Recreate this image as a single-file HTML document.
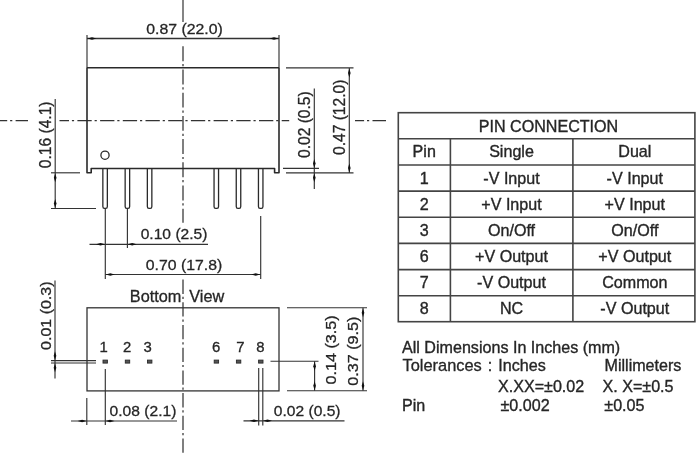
<!DOCTYPE html>
<html><head><meta charset="utf-8"><style>
html,body{margin:0;padding:0;background:#fff;width:700px;height:454px;overflow:hidden}
svg{display:block;filter:blur(0.45px)}
text{font-family:"Liberation Sans",sans-serif}
</style></head><body>
<svg width="700" height="454" viewBox="0 0 700 454">
<line x1="0" y1="120.6" x2="28" y2="120.6" stroke="#333333" stroke-width="1.25" stroke-dasharray="14.3 2.9 2.2 3.3" stroke-dashoffset="7.1"/>
<line x1="59.5" y1="120.6" x2="289.2" y2="120.6" stroke="#333333" stroke-width="1.25" stroke-dasharray="14.3 2.9 2.2 3.3" stroke-dashoffset="4.8"/>
<line x1="355" y1="120.6" x2="386" y2="120.6" stroke="#333333" stroke-width="1.25" stroke-dasharray="14.3 2.9 2.2 3.3" stroke-dashoffset="5.2"/>
<line x1="183" y1="0" x2="183" y2="22" stroke="#333333" stroke-width="1.2" />
<line x1="183" y1="46.3" x2="183" y2="222.7" stroke="#333333" stroke-width="1.25" stroke-dasharray="14.9 2.9 2.2 3.2" stroke-dashoffset="0"/>
<line x1="183" y1="279.6" x2="183" y2="454" stroke="#333333" stroke-width="1.25" stroke-dasharray="14.3 2.9 2.2 3.3" stroke-dashoffset="0"/>
<path d="M87,67.7 H279 V172.8 H274.6 V168.5 H91.2 V172.8 H87 Z" fill="none" stroke="#2a2a2a" stroke-width="1.6" stroke-linejoin="round"/>
<circle cx="105" cy="155.2" r="4.1" fill="none" stroke="#2a2a2a" stroke-width="1.3"/>
<path d="M102.85,168.5 V206.5 Q102.85,208.4 104.5,208.4 H105.69999999999999 Q107.35,208.4 107.35,206.5 V168.5" fill="none" stroke="#2a2a2a" stroke-width="1.3"/>
<path d="M125.15,168.5 V206.5 Q125.15,208.4 126.80000000000001,208.4 H128.0 Q129.65,208.4 129.65,206.5 V168.5" fill="none" stroke="#2a2a2a" stroke-width="1.3"/>
<path d="M147.35,168.5 V206.5 Q147.35,208.4 149.0,208.4 H150.2 Q151.85,208.4 151.85,206.5 V168.5" fill="none" stroke="#2a2a2a" stroke-width="1.3"/>
<path d="M214.05,168.5 V206.5 Q214.05,208.4 215.70000000000002,208.4 H216.9 Q218.55,208.4 218.55,206.5 V168.5" fill="none" stroke="#2a2a2a" stroke-width="1.3"/>
<path d="M236.25,168.5 V206.5 Q236.25,208.4 237.9,208.4 H239.1 Q240.75,208.4 240.75,206.5 V168.5" fill="none" stroke="#2a2a2a" stroke-width="1.3"/>
<path d="M258.45,168.5 V206.5 Q258.45,208.4 260.09999999999997,208.4 H261.3 Q262.95,208.4 262.95,206.5 V168.5" fill="none" stroke="#2a2a2a" stroke-width="1.3"/>
<line x1="87" y1="35" x2="87" y2="67" stroke="#333333" stroke-width="1.15" />
<line x1="279" y1="35" x2="279" y2="67" stroke="#333333" stroke-width="1.15" />
<line x1="87" y1="38.5" x2="279" y2="38.5" stroke="#333333" stroke-width="1.3" />
<polygon points="87.50,38.50 92.00,39.80 96.50,38.50 92.00,37.20" fill="#111"/>
<polygon points="278.50,38.50 274.00,37.20 269.50,38.50 274.00,39.80" fill="#111"/>
<text transform="translate(146.2,34.2) scale(1,0.97)" text-anchor="start" font-size="15.85" fill="#262626" stroke="#262626" stroke-width="0.3" >0.87 (22.0)</text>
<line x1="51" y1="172.8" x2="80" y2="172.8" stroke="#333333" stroke-width="1.15" />
<line x1="51" y1="208.5" x2="96" y2="208.5" stroke="#333333" stroke-width="1.15" />
<line x1="55.2" y1="99" x2="55.2" y2="208.5" stroke="#333333" stroke-width="1.15" />
<polygon points="55.20,173.30 53.90,177.80 55.20,182.30 56.50,177.80" fill="#111"/>
<polygon points="55.20,208.00 56.50,203.50 55.20,199.00 53.90,203.50" fill="#111"/>
<text transform="translate(50.9,168.2) rotate(-90) scale(1,1.06)" text-anchor="start" font-size="15.6" fill="#262626" stroke="#262626" stroke-width="0.3" >0.16 (4.1)</text>
<line x1="286" y1="67.9" x2="353.5" y2="67.9" stroke="#333333" stroke-width="1.15" />
<line x1="283" y1="168.3" x2="319" y2="168.3" stroke="#333333" stroke-width="1.15" />
<line x1="286" y1="172.9" x2="353.5" y2="172.9" stroke="#333333" stroke-width="1.15" />
<line x1="349.3" y1="68" x2="349.3" y2="172.9" stroke="#333333" stroke-width="1.15" />
<polygon points="349.30,68.50 348.00,73.00 349.30,77.50 350.60,73.00" fill="#111"/>
<polygon points="349.30,172.40 350.60,167.90 349.30,163.40 348.00,167.90" fill="#111"/>
<text transform="translate(344.5,155.0) rotate(-90) scale(1,1.06)" text-anchor="start" font-size="15.6" fill="#262626" stroke="#262626" stroke-width="0.3" >0.47 (12.0)</text>
<line x1="314.3" y1="88.5" x2="314.3" y2="189" stroke="#333333" stroke-width="1.15" />
<polygon points="314.30,168.00 315.60,163.50 314.30,159.00 313.00,163.50" fill="#111"/>
<polygon points="314.30,173.20 313.00,177.70 314.30,182.20 315.60,177.70" fill="#111"/>
<text transform="translate(310.0,158.0) rotate(-90) scale(1,1.06)" text-anchor="start" font-size="15.6" fill="#262626" stroke="#262626" stroke-width="0.3" >0.02 (0.5)</text>
<line x1="105.3" y1="208.4" x2="105.3" y2="279" stroke="#333333" stroke-width="1.15" />
<line x1="127.4" y1="208.4" x2="127.4" y2="248" stroke="#333333" stroke-width="1.15" />
<line x1="260.7" y1="216" x2="260.7" y2="279" stroke="#333333" stroke-width="1.15" />
<line x1="89.5" y1="244.3" x2="208" y2="244.3" stroke="#333333" stroke-width="1.15" />
<polygon points="105.00,244.30 100.50,243.00 96.00,244.30 100.50,245.60" fill="#111"/>
<polygon points="127.70,244.30 132.20,245.60 136.70,244.30 132.20,243.00" fill="#111"/>
<text transform="translate(140.7,238.8) scale(1,0.97)" text-anchor="start" font-size="15.6" fill="#262626" stroke="#262626" stroke-width="0.3" >0.10 (2.5)</text>
<line x1="105.3" y1="274.5" x2="260.7" y2="274.5" stroke="#333333" stroke-width="1.15" />
<polygon points="105.80,274.50 110.30,275.80 114.80,274.50 110.30,273.20" fill="#111"/>
<polygon points="260.20,274.50 255.70,273.20 251.20,274.50 255.70,275.80" fill="#111"/>
<text transform="translate(145.7,270.2) scale(1,0.97)" text-anchor="start" font-size="15.85" fill="#262626" stroke="#262626" stroke-width="0.3" >0.70 (17.8)</text>
<rect x="87" y="307.8" width="192" height="83.1" fill="none" stroke="#333333" stroke-width="1.3"/>
<text transform="translate(129.8,302.2) scale(1,0.97)" text-anchor="start" font-size="16.3" fill="#262626" stroke="#262626" stroke-width="0.3" >Bottom</text>
<text transform="translate(189.2,302.2) scale(1,0.97)" text-anchor="start" font-size="16.3" fill="#262626" stroke="#262626" stroke-width="0.3" >View</text>
<text transform="translate(103.6,352.2) scale(1,0.97)" text-anchor="middle" font-size="14.9" fill="#262626" stroke="#262626" stroke-width="0.3" >1</text>
<rect x="103.0" y="360.1" width="4.4" height="3.0" fill="#555" stroke="#2a2a2a" stroke-width="0.9"/>
<text transform="translate(127.1,352.2) scale(1,0.97)" text-anchor="middle" font-size="14.9" fill="#262626" stroke="#262626" stroke-width="0.3" >2</text>
<rect x="125.30000000000001" y="360.1" width="4.4" height="3.0" fill="#555" stroke="#2a2a2a" stroke-width="0.9"/>
<text transform="translate(147.7,352.2) scale(1,0.97)" text-anchor="middle" font-size="14.9" fill="#262626" stroke="#262626" stroke-width="0.3" >3</text>
<rect x="147.5" y="360.1" width="4.4" height="3.0" fill="#555" stroke="#2a2a2a" stroke-width="0.9"/>
<text transform="translate(216.2,352.2) scale(1,0.97)" text-anchor="middle" font-size="14.9" fill="#262626" stroke="#262626" stroke-width="0.3" >6</text>
<rect x="214.20000000000002" y="360.1" width="4.4" height="3.0" fill="#555" stroke="#2a2a2a" stroke-width="0.9"/>
<text transform="translate(240.3,352.2) scale(1,0.97)" text-anchor="middle" font-size="14.9" fill="#262626" stroke="#262626" stroke-width="0.3" >7</text>
<rect x="236.4" y="360.1" width="4.4" height="3.0" fill="#555" stroke="#2a2a2a" stroke-width="0.9"/>
<text transform="translate(260.4,352.2) scale(1,0.97)" text-anchor="middle" font-size="14.9" fill="#262626" stroke="#262626" stroke-width="0.3" >8</text>
<rect x="258.59999999999997" y="360.1" width="4.4" height="3.0" fill="#555" stroke="#2a2a2a" stroke-width="0.9"/>
<line x1="51" y1="360.6" x2="96" y2="360.6" stroke="#333333" stroke-width="1.1" />
<line x1="51" y1="363" x2="96" y2="363" stroke="#333333" stroke-width="1.1" />
<line x1="55" y1="280.5" x2="55" y2="378.5" stroke="#333333" stroke-width="1.15" />
<polygon points="55.00,360.30 56.30,355.80 55.00,351.30 53.70,355.80" fill="#111"/>
<polygon points="55.00,363.30 53.70,367.80 55.00,372.30 56.30,367.80" fill="#111"/>
<text transform="translate(51.2,349.9) rotate(-90) scale(1,0.93)" text-anchor="start" font-size="16.0" fill="#262626" stroke="#262626" stroke-width="0.3" >0.01 (0.3)</text>
<line x1="86.8" y1="398" x2="86.8" y2="425" stroke="#333333" stroke-width="1.15" />
<line x1="105.3" y1="369" x2="105.3" y2="425" stroke="#333333" stroke-width="1.15" />
<line x1="71" y1="421" x2="177" y2="421" stroke="#333333" stroke-width="1.15" />
<polygon points="86.60,421.00 82.10,419.70 77.60,421.00 82.10,422.30" fill="#111"/>
<polygon points="105.50,421.00 110.00,422.30 114.50,421.00 110.00,419.70" fill="#111"/>
<text transform="translate(109.6,415.6) scale(1,0.97)" text-anchor="start" font-size="15.6" fill="#262626" stroke="#262626" stroke-width="0.3" >0.08 (2.1)</text>
<line x1="258.7" y1="368" x2="258.7" y2="425.5" stroke="#333333" stroke-width="1.15" />
<line x1="262.8" y1="368" x2="262.8" y2="425.5" stroke="#333333" stroke-width="1.15" />
<line x1="243.5" y1="420.8" x2="344.5" y2="420.8" stroke="#333333" stroke-width="1.15" />
<polygon points="258.50,420.80 254.00,419.50 249.50,420.80 254.00,422.10" fill="#111"/>
<polygon points="263.00,420.80 267.50,422.10 272.00,420.80 267.50,419.50" fill="#111"/>
<text transform="translate(273.8,415.6) scale(1,0.97)" text-anchor="start" font-size="15.6" fill="#262626" stroke="#262626" stroke-width="0.3" >0.02 (0.5)</text>
<line x1="287" y1="307.7" x2="367" y2="307.7" stroke="#333333" stroke-width="1.15" />
<line x1="270.5" y1="361.2" x2="318.5" y2="361.2" stroke="#333333" stroke-width="1.15" />
<line x1="287" y1="390.7" x2="367" y2="390.7" stroke="#333333" stroke-width="1.15" />
<line x1="314.6" y1="361.2" x2="314.6" y2="390.7" stroke="#333333" stroke-width="1.15" />
<polygon points="314.60,361.70 313.30,366.20 314.60,370.70 315.90,366.20" fill="#111"/>
<polygon points="314.60,390.20 315.90,385.70 314.60,381.20 313.30,385.70" fill="#111"/>
<text transform="translate(335.6,384.6) rotate(-90) scale(1,0.93)" text-anchor="start" font-size="16.2" fill="#262626" stroke="#262626" stroke-width="0.3" >0.14 (3.5)</text>
<line x1="363" y1="307.7" x2="363" y2="390.7" stroke="#333333" stroke-width="1.15" />
<polygon points="363.00,308.20 361.70,312.70 363.00,317.20 364.30,312.70" fill="#111"/>
<polygon points="363.00,390.20 364.30,385.70 363.00,381.20 361.70,385.70" fill="#111"/>
<text transform="translate(357.8,385.8) rotate(-90) scale(1,0.93)" text-anchor="start" font-size="16.2" fill="#262626" stroke="#262626" stroke-width="0.3" >0.37 (9.5)</text>
<rect x="398.3" y="112.7" width="296.59999999999997" height="209.0" fill="none" stroke="#444" stroke-width="1.6"/>
<line x1="398.3" y1="138.75" x2="694.9" y2="138.75" stroke="#444" stroke-width="1.6" />
<line x1="398.3" y1="165.0" x2="694.9" y2="165.0" stroke="#444" stroke-width="1.6" />
<line x1="398.3" y1="191.1" x2="694.9" y2="191.1" stroke="#444" stroke-width="1.6" />
<line x1="398.3" y1="217.2" x2="694.9" y2="217.2" stroke="#444" stroke-width="1.6" />
<line x1="398.3" y1="243.4" x2="694.9" y2="243.4" stroke="#444" stroke-width="1.6" />
<line x1="398.3" y1="269.6" x2="694.9" y2="269.6" stroke="#444" stroke-width="1.6" />
<line x1="398.3" y1="295.7" x2="694.9" y2="295.7" stroke="#444" stroke-width="1.6" />
<line x1="450.4" y1="138.75" x2="450.4" y2="321.7" stroke="#444" stroke-width="1.6" />
<line x1="572.9" y1="138.75" x2="572.9" y2="321.7" stroke="#444" stroke-width="1.6" />
<text transform="translate(548.5,132.0)" text-anchor="middle" font-size="16.1" fill="#262626" stroke="#262626" stroke-width="0.35" >PIN CONNECTION</text>
<text transform="translate(424.2,157.475)" text-anchor="middle" font-size="16.1" fill="#262626" stroke="#262626" stroke-width="0.35" >Pin</text>
<text transform="translate(511.5,157.475)" text-anchor="middle" font-size="16.1" fill="#262626" stroke="#262626" stroke-width="0.35" >Single</text>
<text transform="translate(634.8,157.475)" text-anchor="middle" font-size="16.1" fill="#262626" stroke="#262626" stroke-width="0.35" >Dual</text>
<text transform="translate(424.2,183.65)" text-anchor="middle" font-size="16.1" fill="#262626" stroke="#262626" stroke-width="0.35" >1</text>
<text transform="translate(511.5,183.65)" text-anchor="middle" font-size="16.1" fill="#262626" stroke="#262626" stroke-width="0.35" >-V Input</text>
<text transform="translate(634.8,183.65)" text-anchor="middle" font-size="16.1" fill="#262626" stroke="#262626" stroke-width="0.35" >-V Input</text>
<text transform="translate(424.2,209.74999999999997)" text-anchor="middle" font-size="16.1" fill="#262626" stroke="#262626" stroke-width="0.35" >2</text>
<text transform="translate(511.5,209.74999999999997)" text-anchor="middle" font-size="16.1" fill="#262626" stroke="#262626" stroke-width="0.35" >+V Input</text>
<text transform="translate(634.8,209.74999999999997)" text-anchor="middle" font-size="16.1" fill="#262626" stroke="#262626" stroke-width="0.35" >+V Input</text>
<text transform="translate(424.2,235.9)" text-anchor="middle" font-size="16.1" fill="#262626" stroke="#262626" stroke-width="0.35" >3</text>
<text transform="translate(511.5,235.9)" text-anchor="middle" font-size="16.1" fill="#262626" stroke="#262626" stroke-width="0.35" >On/Off</text>
<text transform="translate(634.8,235.9)" text-anchor="middle" font-size="16.1" fill="#262626" stroke="#262626" stroke-width="0.35" >On/Off</text>
<text transform="translate(424.2,262.1)" text-anchor="middle" font-size="16.1" fill="#262626" stroke="#262626" stroke-width="0.35" >6</text>
<text transform="translate(511.5,262.1)" text-anchor="middle" font-size="16.1" fill="#262626" stroke="#262626" stroke-width="0.35" >+V Output</text>
<text transform="translate(634.8,262.1)" text-anchor="middle" font-size="16.1" fill="#262626" stroke="#262626" stroke-width="0.35" >+V Output</text>
<text transform="translate(424.2,288.25)" text-anchor="middle" font-size="16.1" fill="#262626" stroke="#262626" stroke-width="0.35" >7</text>
<text transform="translate(511.5,288.25)" text-anchor="middle" font-size="16.1" fill="#262626" stroke="#262626" stroke-width="0.35" >-V Output</text>
<text transform="translate(634.8,288.25)" text-anchor="middle" font-size="16.1" fill="#262626" stroke="#262626" stroke-width="0.35" >Common</text>
<text transform="translate(424.2,314.3)" text-anchor="middle" font-size="16.1" fill="#262626" stroke="#262626" stroke-width="0.35" >8</text>
<text transform="translate(511.5,314.3)" text-anchor="middle" font-size="16.1" fill="#262626" stroke="#262626" stroke-width="0.35" >NC</text>
<text transform="translate(634.8,314.3)" text-anchor="middle" font-size="16.1" fill="#262626" stroke="#262626" stroke-width="0.35" >-V Output</text>
<text transform="translate(402,352.5)" text-anchor="start" font-size="16.1" fill="#262626" stroke="#262626" stroke-width="0.35" >All Dimensions In Inches (mm)</text>
<text transform="translate(402.5,371.3)" text-anchor="start" font-size="16.4" fill="#262626" stroke="#262626" stroke-width="0.3" >Tolerances</text>
<text transform="translate(487.8,371.3)" text-anchor="start" font-size="16.1" fill="#262626" stroke="#262626" stroke-width="0.35" >:</text>
<text transform="translate(498.3,371.3)" text-anchor="start" font-size="16.1" fill="#262626" stroke="#262626" stroke-width="0.35" >Inches</text>
<text transform="translate(604.5,371.1)" text-anchor="start" font-size="16.1" fill="#262626" stroke="#262626" stroke-width="0.35" >Millimeters</text>
<text transform="translate(498,391.5)" text-anchor="start" font-size="16.1" fill="#262626" stroke="#262626" stroke-width="0.35" >X.XX=±0.02</text>
<text transform="translate(602.5,391.5)" text-anchor="start" font-size="16.1" fill="#262626" stroke="#262626" stroke-width="0.35" >X. X=±0.5</text>
<text transform="translate(402,411.4)" text-anchor="start" font-size="16.1" fill="#262626" stroke="#262626" stroke-width="0.35" >Pin</text>
<text transform="translate(500.5,411.4)" text-anchor="start" font-size="16.1" fill="#262626" stroke="#262626" stroke-width="0.35" >±0.002</text>
<text transform="translate(604.3,411.4)" text-anchor="start" font-size="16.1" fill="#262626" stroke="#262626" stroke-width="0.35" >±0.05</text>
</svg>
</body></html>
